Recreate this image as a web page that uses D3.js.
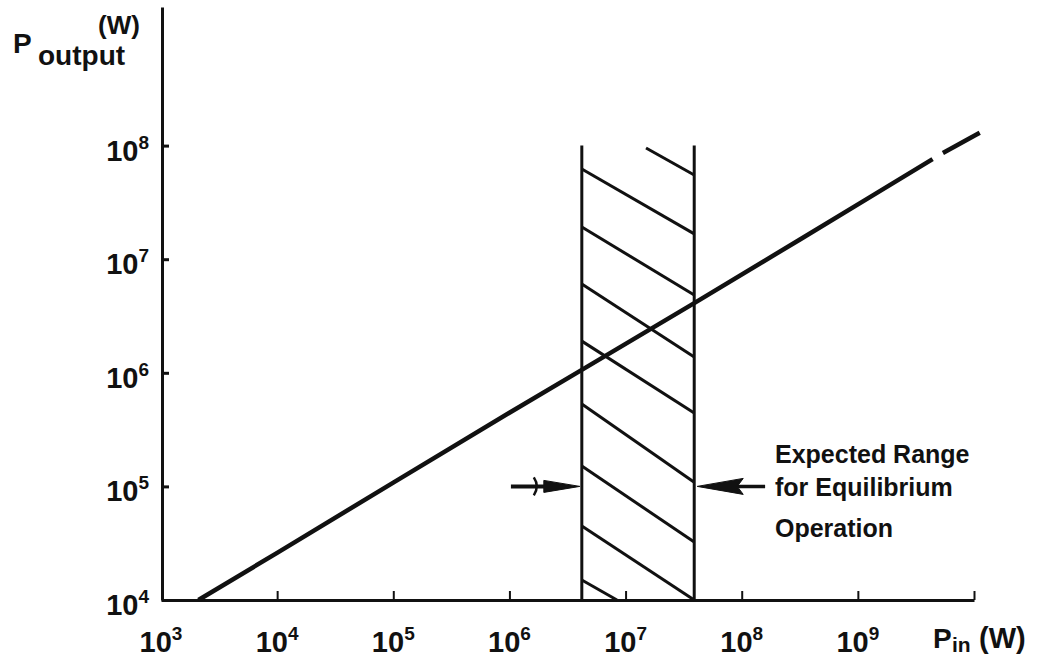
<!DOCTYPE html>
<html>
<head>
<meta charset="utf-8">
<script src="https://cdn.jsdelivr.net/npm/d3@7"></script>
<style>
  body { margin: 0; background: #fff; }
  svg text { font-family: "Liberation Sans", Arial, sans-serif; font-weight: bold; fill: #111; }
</style>
</head>
<body>
<svg id="chart" width="1039" height="658"></svg>
<script>
// tick exponents (labels are 10^n)
const xTickExps = [3, 4, 5, 6, 7, 8, 9];
const yTickExps = [4, 5, 6, 7, 8];

// P_out vs P_in curve (broken near the upper end)
const curveIn  = [2.1e3, 1e4, 1e5, 1e6, 4.2e6, 3.9e7, 3.2e8, 1.2e9, 4.4e9];
const curveOut = [1e4, 2.6e4, 1.08e5, 4.45e5, 1.06e6, 4.1e6, 1.5e7, 3.4e7, 7.6e7];
const tailIn  = [5.4e9, 1.12e10];
const tailOut = [8.6e7, 1.3e8];

// expected range for equilibrium operation
const rangeLow = 4.2e6;
const rangeHigh = 3.9e7;
const rangeTop = 1e8;

// hatch strokes: start (P_in, P_out) -> end (P_in, P_out)
const hatchStartIn  = [1.5e7, 4.2e6, 4.2e6, 4.2e6, 4.2e6, 4.2e6, 4.2e6, 4.2e6, 4.2e6];
const hatchStartOut = [9.53e7, 6.22e7, 1.92e7, 6.05e6, 1.9e6, 5.31e5, 1.51e5, 4.48e4, 1.5e4];
const hatchEndIn    = [3.9e7, 3.9e7, 3.9e7, 3.9e7, 3.9e7, 3.9e7, 3.9e7, 3.9e7, 8.43e6];
const hatchEndOut   = [5.51e7, 1.67e7, 4.84e6, 1.38e6, 4.43e5, 1.09e5, 3.24e4, 1.0e4, 1.0e4];

// arrows pointing at the range
const arrowLevel = 1e5;
const arrowLeftFrom = 1.03e6;
const arrowRightFrom = 1.59e8;

const noteLines = ["Expected Range", "for Equilibrium", "Operation"];

const svg = d3.select("#chart");
const ink = "#111";

const x = d3.scaleLog().domain([1e3, 1e10]).range([161, 974]);
const y = d3.scaleLog().domain([1e4, 1.66e9]).range([600, 7]);

// axes
const xAxis = svg.append("g")
    .attr("transform", "translate(0,600)")
    .call(d3.axisTop(x)
      .tickValues([1e4, 1e5, 1e6, 1e7, 1e8, 1e9, 1e10])
      .tickSize(9).tickSizeOuter(0).tickFormat(""));
xAxis.select(".domain").attr("stroke", ink).attr("stroke-width", 3.2);
xAxis.selectAll(".tick line").attr("stroke", ink).attr("stroke-width", 2);

const yAxis = svg.append("g")
    .attr("transform", "translate(162,0)")
    .call(d3.axisRight(y)
      .tickValues([1e5, 1e6, 1e7, 1e8])
      .tickSize(7).tickSizeOuter(0).tickFormat(""));
yAxis.select(".domain").attr("stroke", ink).attr("stroke-width", 3);
yAxis.selectAll(".tick line").attr("stroke", ink).attr("stroke-width", 3);

// tick labels with superscripts
function powLabel(sel) {
  sel.append("tspan").attr("font-size", 29).text("10");
  sel.append("tspan").attr("font-size", 19).attr("dy", -12).text(d => d);
}

svg.append("g").selectAll("text")
  .data(xTickExps)
  .join("text")
    .attr("x", d => x(Math.pow(10, d)))
    .attr("y", 652)
    .attr("text-anchor", "middle")
    .call(powLabel);

svg.append("g").selectAll("text")
  .data(yTickExps)
  .join("text")
    .attr("x", 149)
    .attr("y", d => y(Math.pow(10, d)) + 15)
    .attr("text-anchor", "end")
    .call(powLabel);

// axis titles
const yTitle = svg.append("g");
yTitle.append("text").attr("x", 13).attr("y", 53).attr("font-size", 28).text("P");
yTitle.append("text").attr("x", 38).attr("y", 65).attr("font-size", 28).text("output");
yTitle.append("text").attr("x", 98).attr("y", 34).attr("font-size", 26).text("(W)");

const xTitle = svg.append("g");
xTitle.append("text").attr("x", 933).attr("y", 648).attr("font-size", 28).text("P");
xTitle.append("text").attr("x", 952).attr("y", 652).attr("font-size", 21).text("in");
xTitle.append("text").attr("x", 979).attr("y", 648).attr("font-size", 29).text("(W)");

// hatched range
const range = svg.append("g").attr("stroke", ink).attr("stroke-width", 3).attr("fill", "none");
[rangeLow, rangeHigh].forEach(v => {
  range.append("line")
    .attr("x1", x(v)).attr("x2", x(v))
    .attr("y1", y(1e4)).attr("y2", y(rangeTop));
});
range.selectAll("line.hatch")
  .data(d3.range(hatchStartIn.length))
  .join("line")
    .attr("class", "hatch")
    .attr("x1", i => x(hatchStartIn[i]))
    .attr("y1", i => y(hatchStartOut[i]))
    .attr("x2", i => x(hatchEndIn[i]))
    .attr("y2", i => y(hatchEndOut[i]));

// main curve
const line = d3.line()
    .x(d => x(d[0]))
    .y(d => y(d[1]));

svg.append("path")
  .datum(d3.zip(curveIn, curveOut))
  .attr("d", line)
  .attr("fill", "none").attr("stroke", ink).attr("stroke-width", 4.5)
  .attr("stroke-linejoin", "round");
svg.append("path")
  .datum(d3.zip(tailIn, tailOut))
  .attr("d", line)
  .attr("fill", "none").attr("stroke", ink).attr("stroke-width", 4.5);

// arrows
const ay = y(arrowLevel);
const arrows = svg.append("g").attr("stroke", ink).attr("fill", ink);

const lTip = x(rangeLow) - 2;
arrows.append("line")
  .attr("x1", x(arrowLeftFrom)).attr("x2", lTip - 30)
  .attr("y1", ay).attr("y2", ay).attr("stroke-width", 4);
arrows.append("path")
  .attr("d", `M${lTip},${ay} L${lTip - 36},${ay - 6} L${lTip - 36},${ay + 6} Z`)
  .attr("stroke-width", 1);
arrows.append("path")
  .attr("d", `M${lTip - 46},${ay - 9} Q${lTip - 40},${ay} ${lTip - 46},${ay + 9}`)
  .attr("fill", "none").attr("stroke-width", 2.5);

const rTip = x(rangeHigh) + 3;
arrows.append("line")
  .attr("x1", rTip + 30).attr("x2", x(arrowRightFrom))
  .attr("y1", ay).attr("y2", ay).attr("stroke-width", 3.5);
arrows.append("path")
  .attr("d", `M${rTip},${ay} L${rTip + 46},${ay - 8} L${rTip + 40},${ay} L${rTip + 46},${ay + 8} Z`)
  .attr("stroke-width", 1);

// annotation
svg.append("text")
  .attr("font-size", 25)
  .selectAll("tspan")
  .data(noteLines)
  .join("tspan")
    .attr("x", 775)
    .attr("y", (d, i) => [463, 496, 537][i])
    .text(d => d);
</script>
</body>
</html>
